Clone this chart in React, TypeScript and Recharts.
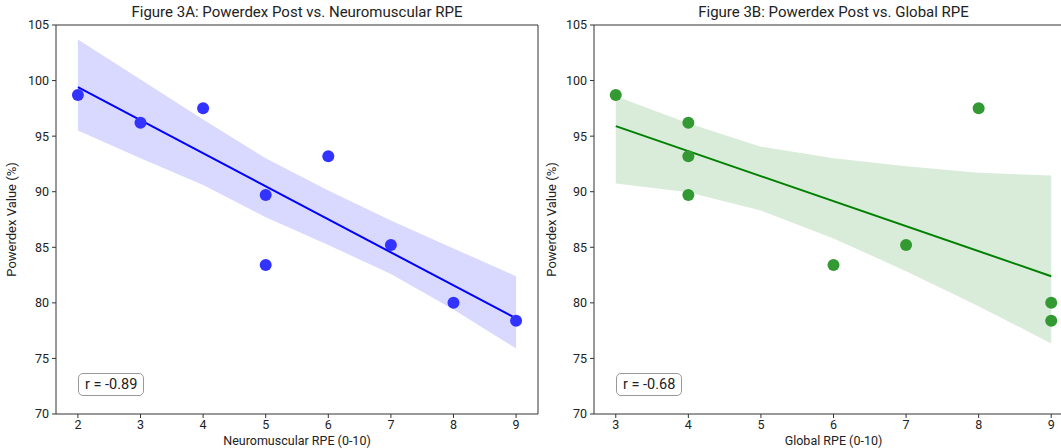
import React from "react";
import {
  Area,
  ComposedChart,
  Line,
  ReferenceLine,
  Scatter,
  XAxis,
  YAxis,
} from "recharts";

// ---- data ----

// Figure 3A
const nmRpe = [2, 3, 4, 5, 5, 6, 7, 8, 9];
const powerdexA = [98.7, 96.2, 97.5, 89.7, 83.4, 93.2, 85.2, 80.0, 78.4];
const fitAx = [2, 9];
const fitAy = [99.4, 78.6];
const bandAx = [2, 3, 4, 5, 6, 7, 8, 9];
const bandALow = [95.5, 93.0, 90.6, 87.7, 85.2, 82.6, 79.4, 75.9];
const bandAHigh = [103.7, 100.1, 96.5, 93.0, 90.1, 87.4, 84.9, 82.4];
const ticksA = [2, 3, 4, 5, 6, 7, 8, 9];

// Figure 3B
const globalRpe = [3, 4, 4, 4, 6, 7, 8, 9, 9];
const powerdexB = [98.7, 96.2, 93.2, 89.7, 83.4, 85.2, 97.5, 80.0, 78.4];
const fitBx = [3, 9];
const fitBy = [95.9, 82.4];
const bandBx = [3, 4, 5, 6, 7, 8, 9];
const bandBLow = [90.75, 89.95, 88.3, 85.8, 82.85, 79.7, 76.35];
const bandBHigh = [98.6, 96.15, 94.05, 93.0, 92.3, 91.7, 91.45];
const ticksB = [3, 4, 5, 6, 7, 8, 9];

const yTicks = [70, 75, 80, 85, 90, 95, 100, 105];

const FONT = "Roboto, 'Open Sans', sans-serif";
const AXIS = "#333333";

const zip = (xs: number[], ys: number[]) => xs.map((x, i) => ({ x, y: ys[i] }));
const band = (xs: number[], lo: number[], hi: number[]) =>
  xs.map((x, i) => ({ x, band: [lo[i], hi[i]] }));

interface PanelProps {
  left: number;
  title: string;
  xLabel: string;
  r: string;
  xDomain: [number, number];
  xTicks: number[];
  points: { x: number; y: number }[];
  fit: { x: number; y: number }[];
  ci: { x: number; band: number[] }[];
  dot: string;
  line: string;
  fill: string;
  yAxisWidth: number;
  rightMargin: number;
}

function Panel(p: PanelProps) {
  const plotLeft = p.yAxisWidth;
  const plotRight = 540 - p.rightMargin;
  return (
    <div style={{ position: "absolute", left: p.left, top: 0, width: 540, height: 448 }}>
      <div
        style={{
          position: "absolute",
          left: plotLeft,
          width: plotRight - plotLeft,
          top: 3,
          textAlign: "center",
          fontSize: 15,
          color: "#222",
          whiteSpace: "nowrap",
        }}
      >
        {p.title}
      </div>
      <ComposedChart
        width={540}
        height={448}
        margin={{ top: 25, right: p.rightMargin, bottom: 0, left: 0 }}
      >
        <XAxis
          type="number"
          dataKey="x"
          domain={p.xDomain}
          ticks={p.xTicks}
          allowDataOverflow
          height={34}
          stroke={AXIS}
          tickSize={4}
          tickMargin={2}
          tick={{ fill: "#222", fontSize: 12.5 }}
          label={{ value: p.xLabel, position: "insideBottom", offset: 3, fill: "#222", fontSize: 12.5 }}
        />
        <YAxis
          type="number"
          domain={[70, 105]}
          ticks={yTicks}
          allowDataOverflow
          width={p.yAxisWidth}
          stroke={AXIS}
          tickSize={4}
          tickMargin={3}
          tick={{ fill: "#222", fontSize: 12.5 }}
          label={{
            value: "Powerdex Value (%)",
            angle: -90,
            position: "insideLeft",
            offset: 11,
            fill: "#222",
            fontSize: 13,
            style: { textAnchor: "middle" },
          }}
        />
        <ReferenceLine y={105} stroke={AXIS} />
        <ReferenceLine x={p.xDomain[1]} stroke={AXIS} />
        <Area
          data={p.ci}
          dataKey="band"
          type="linear"
          stroke="none"
          fill={p.fill}
          fillOpacity={1}
          isAnimationActive={false}
        />
        <Line
          data={p.fit}
          dataKey="y"
          type="linear"
          stroke={p.line}
          strokeWidth={2}
          dot={false}
          isAnimationActive={false}
        />
        <Scatter
          data={p.points}
          dataKey="y"
          isAnimationActive={false}
          shape={(s: any) => <circle cx={s.cx} cy={s.cy} r={6} fill={p.dot} />}
        />
      </ComposedChart>
      <div
        style={{
          position: "absolute",
          left: plotLeft + 22,
          top: 373,
          padding: "2px 6px",
          border: "1px solid #999",
          borderRadius: 5,
          background: "#fff",
          fontSize: 14.5,
          color: "#222",
          whiteSpace: "nowrap",
        }}
      >
        {p.r}
      </div>
    </div>
  );
}

export default function App() {
  return (
    <div
      style={{
        position: "absolute",
        left: 0,
        top: 0,
        width: 1061,
        height: 448,
        overflow: "hidden",
        background: "#fff",
        fontFamily: FONT,
      }}
    >
      <Panel
        left={0}
        title="Figure 3A: Powerdex Post vs. Neuromuscular RPE"
        xLabel="Neuromuscular RPE (0-10)"
        r="r = -0.89"
        xDomain={[1.65, 9.35]}
        xTicks={ticksA}
        points={zip(nmRpe, powerdexA)}
        fit={zip(fitAx, fitAy)}
        ci={band(bandAx, bandALow, bandAHigh)}
        dot="#3333ff"
        line="#0000ff"
        fill="#d9d9ff"
        yAxisWidth={56}
        rightMargin={2}
      />
      <Panel
        left={540}
        title="Figure 3B: Powerdex Post vs. Global RPE"
        xLabel="Global RPE (0-10)"
        r="r = -0.68"
        xDomain={[2.7, 9.3]}
        xTicks={ticksB}
        points={zip(globalRpe, powerdexB)}
        fit={zip(fitBx, fitBy)}
        ci={band(bandBx, bandBLow, bandBHigh)}
        dot="#339933"
        line="#008000"
        fill="#d9ecd9"
        yAxisWidth={54}
        rightMargin={7}
      />
    </div>
  );
}
